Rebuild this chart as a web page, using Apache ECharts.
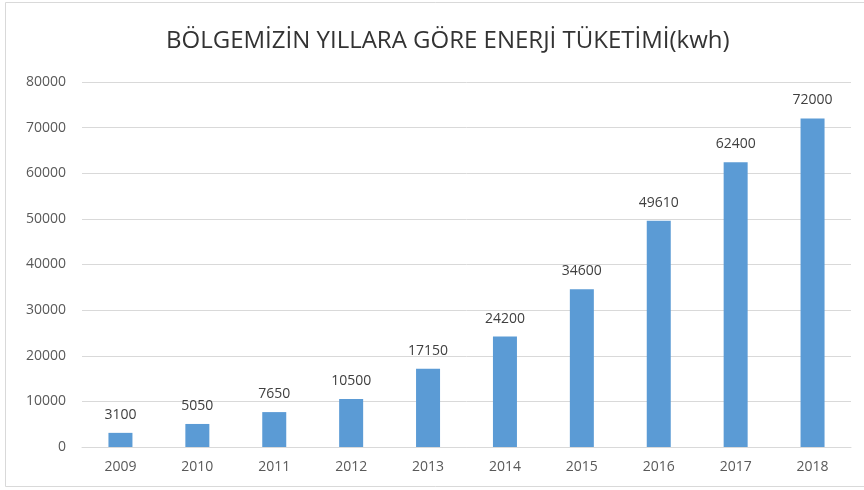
<!DOCTYPE html>
<html lang="tr">
<head>
    <meta charset="UTF-8">
    <title>Enerji Tüketimi</title>
    <script src="https://cdn.jsdelivr.net/npm/echarts@6/dist/echarts.min.js"></script>
    <style>
        html, body { margin: 0; padding: 0; background: #fff; }
        #main { width: 864px; height: 490px; }
    </style>
</head>
<body>
<div id="main"></div>
<script>
    var years = ['2009', '2010', '2011', '2012', '2013', '2014', '2015', '2016', '2017', '2018'];
    var tuketim = [3100, 5050, 7650, 10500, 17150, 24200, 34600, 49610, 62400, 72000];
    var baslik = 'BÖLGEMİZİN YILLARA GÖRE ENERJİ TÜKETİMİ(kwh)';

    var myChart = echarts.init(document.getElementById('main'));
    var option = {
        backgroundColor: '#ffffff',
        animation: false,
        title: {
            text: baslik,
            left: 161,
            top: 24,
            textStyle: {
                fontFamily: 'Open Sans',
                fontWeight: 'normal',
                fontSize: 24,
                color: '#333333'
            }
        },
        graphic: [{
            type: 'rect',
            shape: { x: 5.5, y: 2.5, width: 900, height: 484 },
            style: { fill: 'none', stroke: '#d9d9d9', lineWidth: 1 },
            silent: true
        }],
        grid: {
            left: 82,
            right: 13,
            top: 82,
            bottom: 43
        },
        xAxis: {
            type: 'category',
            data: years,
            axisLine: { lineStyle: { color: '#d9d9d9' } },
            axisTick: { show: false },
            axisLabel: {
                color: '#595959',
                fontSize: 14,
                fontFamily: 'Open Sans',
                margin: 13
            }
        },
        yAxis: {
            type: 'value',
            min: 0,
            max: 80000,
            interval: 10000,
            axisLine: { show: false },
            axisTick: { show: false },
            splitLine: { lineStyle: { color: '#d9d9d9' } },
            axisLabel: {
                color: '#595959',
                fontSize: 14,
                fontFamily: 'Open Sans',
                margin: 16,
                formatter: function (v) { return String(v); }
            }
        },
        series: [{
            type: 'bar',
            data: tuketim,
            barWidth: 24,
            itemStyle: { color: '#5b9bd5' },
            label: {
                show: true,
                position: 'top',
                distance: 11,
                color: '#404040',
                fontSize: 14,
                fontFamily: 'Open Sans'
            }
        }]
    };
    myChart.setOption(option);
</script>
</body>
</html>
